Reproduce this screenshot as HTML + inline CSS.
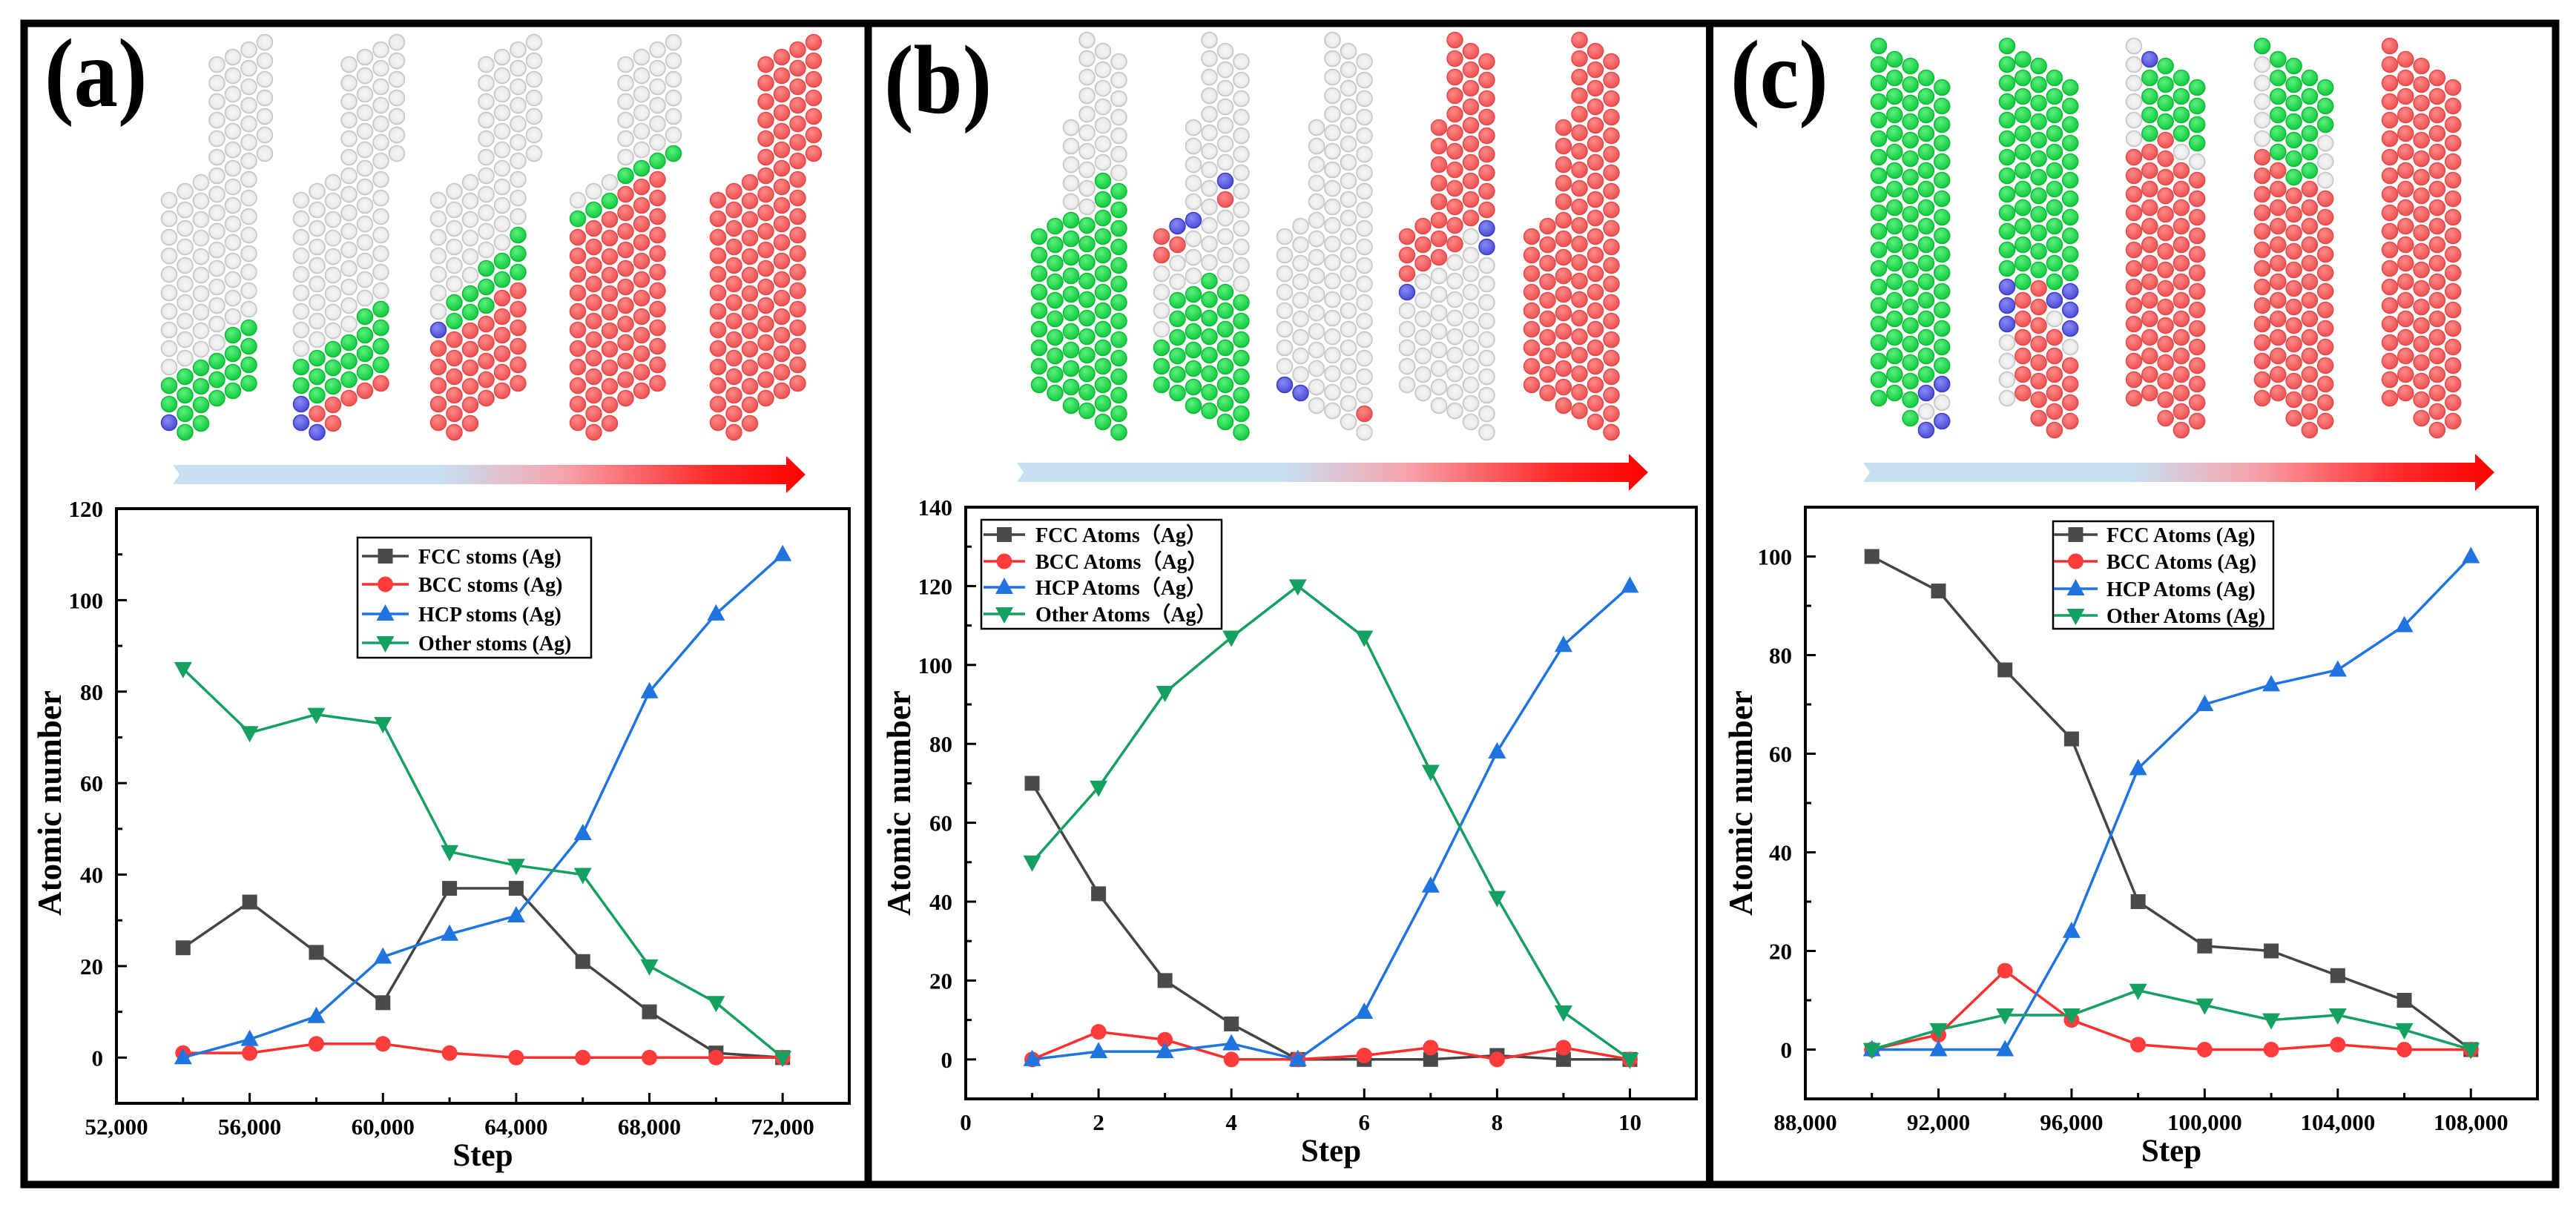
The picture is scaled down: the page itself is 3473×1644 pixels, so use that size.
<!DOCTYPE html>
<html><head><meta charset="utf-8"><title>Atomic structure evolution</title>
<style>html,body{margin:0;padding:0;background:#fff}svg{display:block}
text{font-family:"Liberation Serif","Times New Roman",serif;font-weight:bold;fill:#000}</style></head>
<body>
<svg id="fig" xmlns="http://www.w3.org/2000/svg" width="3473" height="1644" viewBox="0 0 3473 1644">
<defs>
<radialGradient id="gG" cx="0.4" cy="0.35" r="0.7"><stop offset="0" stop-color="#5cf07e"/><stop offset="1" stop-color="#0bc93a"/></radialGradient>
<radialGradient id="gR" cx="0.4" cy="0.35" r="0.7"><stop offset="0" stop-color="#ff8a8a"/><stop offset="1" stop-color="#ee4c4c"/></radialGradient>
<radialGradient id="gB" cx="0.4" cy="0.35" r="0.7"><stop offset="0" stop-color="#8a8af5"/><stop offset="1" stop-color="#4747d8"/></radialGradient>
<radialGradient id="gW" cx="0.5" cy="0.5" r="0.6"><stop offset="0" stop-color="#f7f7f7"/><stop offset="0.6" stop-color="#ededed"/><stop offset="1" stop-color="#d0d0d0"/></radialGradient>
</defs>
<rect x="0" y="0" width="3473" height="1644" fill="#fff"/>
<rect x="32.5" y="31.5" width="3413" height="1566" fill="none" stroke="#000" stroke-width="10"/>
<line x1="1170.5" y1="30" x2="1170.5" y2="1600" stroke="#000" stroke-width="10"/>
<line x1="2305" y1="30" x2="2305" y2="1600" stroke="#000" stroke-width="10"/>
<text x="0" y="0" font-size="132" transform="translate(60,143) scale(0.9,1)">(a)</text>
<text x="0" y="0" font-size="132" transform="translate(1192,152) scale(0.9,1)">(b)</text>
<text x="0" y="0" font-size="132" transform="translate(2333,145) scale(0.9,1)">(c)</text>
<g id="atoms"></g>
<g id="arrows"></g>
<g id="charts"></g>
</svg>
<script>
// ---------- chart data ----------
const aSteps=[54000,56000,58000,60000,62000,64000,66000,68000,70000,72000];
const aFCC=[24,34,23,12,37,37,21,10,1,0];
const aBCC=[1,1,3,3,1,0,0,0,0,0];
const aHCP=[0,4,9,22,27,31,49,80,97,110];
const aOther=[85,71,75,73,45,42,40,20,12,0];
const aXTicks=[52000,56000,60000,64000,68000,72000];
const aYTicks=[0,20,40,60,80,100,120];
const aLegend=["FCC stoms (Ag)","BCC stoms (Ag)","HCP stoms (Ag)","Other stoms (Ag)"];

const bSteps=[1,2,3,4,5,6,7,8,9,10];
const bFCC=[70,42,20,9,0,0,0,1,0,0];
const bBCC=[0,7,5,0,0,1,3,0,3,0];
const bHCP=[0,2,2,4,0,12,44,78,105,120];
const bOther=[50,69,93,107,120,107,73,41,12,0];
const bXTicks=[0,2,4,6,8,10];
const bYTicks=[0,20,40,60,80,100,120,140];
const bLegend=["FCC Atoms（Ag）","BCC Atoms（Ag）","HCP Atoms（Ag）","Other Atoms（Ag）"];

const cSteps=[90000,92000,94000,96000,98000,100000,102000,104000,106000,108000];
const cFCC=[100,93,77,63,30,21,20,15,10,0];
const cBCC=[0,3,16,6,1,0,0,1,0,0];
const cHCP=[0,0,0,24,57,70,74,77,86,100];
const cOther=[0,4,7,7,12,9,6,7,4,0];
const cXTicks=[88000,92000,96000,100000,104000,108000];
const cYTicks=[0,20,40,60,80,100];
const cLegend=["FCC Atoms (Ag)","BCC Atoms (Ag)","HCP Atoms (Ag)","Other Atoms (Ag)"];

const NS="http://www.w3.org/2000/svg";
function mk(tag,attrs,parent){const e=document.createElementNS(NS,tag);for(const k in attrs)e.setAttribute(k,attrs[k]);if(parent)parent.appendChild(e);return e;}

const seriesColors=["#444444","#ff2e2e","#1f74e0","#14a060"];
const markerColors=["#4a4a4a","#ff3b3b","#1f74e0","#14a060"];
const seriesNames=["fcc","bcc","hcp","other"];

function marker(g,type,x,y,color){
  let m;
  if(type===0){m=mk('rect',{x:x-10,y:y-10,width:20,height:20,fill:color},g);}
  else if(type===1){m=mk('circle',{cx:x,cy:y,r:10.5,fill:color},g);}
  else if(type===2){m=mk('polygon',{points:`${x},${y-13} ${x+12},${y+9} ${x-12},${y+9}`,fill:color},g);}
  else {m=mk('polygon',{points:`${x},${y+13} ${x+12},${y-9} ${x-12},${y-9}`,fill:color},g);}
  return m;
}

function drawChart(cfg){
  const root=document.getElementById('charts');
  const g=mk('g',{},root);
  
  
  const sx=v=>cfg.L+(v-cfg.xmin)/(cfg.xmax-cfg.xmin)*(cfg.R-cfg.L);
  const sy=v=>cfg.B-(v-cfg.ymin)/(cfg.ymax-cfg.ymin)*(cfg.B-cfg.T);
  const fr=mk('rect',{x:cfg.L,y:cfg.T,width:cfg.R-cfg.L,height:cfg.B-cfg.T,fill:'none',stroke:'#000','stroke-width':4},g);
  
  
  for(let v=cfg.xTicks[0];v<=cfg.xmax;v+=cfg.xMinor){
    const major=cfg.xTicks.indexOf(v)>=0;
    const t=mk('line',{x1:sx(v),x2:sx(v),y1:cfg.B,y2:cfg.B-(major?14:8),stroke:'#000','stroke-width':3},g);
    
    
  }
  for(let v=cfg.yTicks[0]-cfg.yMinor;v<=cfg.ymax;v+=cfg.yMinor){
    if(v<=cfg.ymin)continue;
    const major=cfg.yTicks.indexOf(v)>=0;
    const t=mk('line',{x1:cfg.L,x2:cfg.L+(major?14:8),y1:sy(v),y2:sy(v),stroke:'#000','stroke-width':3},g);
    
    
  }
  cfg.xTicks.forEach(v=>{
    const t=mk('text',{x:sx(v),y:cfg.B+42,'font-size':31,'text-anchor':'middle'},g);
    t.textContent=cfg.fmt(v);
    
    
  });
  cfg.yTicks.forEach(v=>{
    const t=mk('text',{x:cfg.L-18,y:sy(v)+11,'font-size':31,'text-anchor':'end'},g);
    t.textContent=String(v);
    
    
  });
  const xt=mk('text',{x:(cfg.L+cfg.R)/2,y:cfg.B+84,'font-size':43,'text-anchor':'middle'},g);
  xt.textContent='Step';
  
  
  const yt=mk('text',{x:0,y:0,'font-size':45,'text-anchor':'middle',transform:`translate(${cfg.yTitleX+15},1083) rotate(-90)`},g);
  yt.textContent='Atomic number';
  
  
  cfg.series.forEach((vals,si)=>{
    const sg=mk('g',{},g);
    
    
    const pts=vals.map((v,i)=>sx(cfg.steps[i])+','+sy(v)).join(' ');
    const pl=mk('polyline',{points:pts,fill:'none',stroke:seriesColors[si],'stroke-width':3.5,'stroke-linejoin':'round'},sg);
    
    
    vals.forEach((v,i)=>{
      const m=marker(sg,si,sx(cfg.steps[i]),sy(v),markerColors[si]);
      
      
    });
  });
  const lg=mk('g',{},g);
  
  
  const lb=mk('rect',{x:cfg.leg.x1,y:cfg.leg.y1,width:cfg.leg.x2-cfg.leg.x1,height:cfg.leg.y2-cfg.leg.y1,fill:'#fff',stroke:'#000','stroke-width':2.5},lg);
  
  
  cfg.legend.forEach((lab,si)=>{
    const y=cfg.leg.rows[si];
    const e=mk('g',{},lg);
    
    
    mk('line',{x1:cfg.leg.l1,x2:cfg.leg.l2,y1:y,y2:y,stroke:seriesColors[si],'stroke-width':3.5},e);
    marker(e,si,(cfg.leg.l1+cfg.leg.l2)/2,y,markerColors[si]);
    const t=mk('text',{x:cfg.leg.tx,y:y+10,'font-size':28},e);
    t.textContent=lab;
  });
}
const commaFmt=v=>v.toLocaleString('en-US');
drawChart({id:'a',L:157,R:1145,T:686,B:1488,xmin:52000,xmax:74000,ymin:-10,ymax:120,xTicks:aXTicks,yTicks:aYTicks,xMinor:2000,yMinor:10,fmt:commaFmt,steps:aSteps,series:[aFCC,aBCC,aHCP,aOther],legend:aLegend,yTitleX:67,
  leg:{x1:482,y1:725,x2:797,y2:887,rows:[750,788,828,867],l1:488,l2:551,tx:564}});
drawChart({id:'b',L:1302,R:2287,T:684,B:1482,xmin:0,xmax:11,ymin:-10,ymax:140,xTicks:bXTicks,yTicks:bYTicks,xMinor:1,yMinor:10,fmt:v=>String(v),steps:bSteps,series:[bFCC,bBCC,bHCP,bOther],legend:bLegend,yTitleX:1212,
  leg:{x1:1323,y1:701,x2:1647,y2:848,rows:[721,757,792,828],l1:1326,l2:1382,tx:1396}});
drawChart({id:'c',L:2434,R:3421,T:684,B:1482,xmin:88000,xmax:110000,ymin:-10,ymax:110,xTicks:cXTicks,yTicks:cYTicks,xMinor:2000,yMinor:10,fmt:commaFmt,steps:cSteps,series:[cFCC,cBCC,cHCP,cOther],legend:cLegend,yTitleX:2347,
  leg:{x1:2768,y1:703,x2:3065,y2:848,rows:[721,757,794,830],l1:2769,l2:2828,tx:2840}});

// ---------- arrows ----------
function arrow(x0,x1,y,name){
  const a=document.getElementById('arrows');
  const gid='ag_'+name;
  const lgEl=mk('linearGradient',{id:gid,gradientUnits:'userSpaceOnUse',x1:x0,x2:x1,y1:0,y2:0},document.querySelector('defs'));
  [[0,'#c6e0f2'],[0.42,'#c6e0f2'],[0.62,'#f7a2aa'],[0.85,'#ff2a2a'],[1,'#ff0000']].forEach(s=>mk('stop',{offset:s[0],'stop-color':s[1]},lgEl));
  const xh=x1-26;
  const p=mk('polygon',{points:`${x0},${y-13} ${xh},${y-13} ${xh},${y-25} ${x1},${y} ${xh},${y+25} ${xh},${y+13} ${x0},${y+13} ${x0+9},${y}`,fill:`url(#${gid})`},a);
  
  
}
arrow(233,1086,640,'a');
arrow(1371,2222,637,'b');
arrow(2512,3363,637,'c');

// ---------- atoms ----------
const fills={g:'url(#gG)',r:'url(#gR)',b:'url(#gB)',w:'url(#gW)'};
const strokes={g:'#10b838',r:'#e04a4a',b:'#3c3cc0',w:'#c4c4c4'};
const tplA={tops:[270,258,246,87,77,67,57],bots:[594,583,572,561,550,539,230],dx:21.5};
const tplB={tops:[319,305,172,54,69,83],bots:[527,545,560,572,584,596],dx:21.5};
const tplC={tops:[62,80,89,105,118],bots:[542,554,565,580,583],dx:21.3};
const near=(list,i,y)=>list.some(p=>p[0]===i&&Math.abs(p[1]-y)<13);
const structs=[
 {x:228,t:tplA,f:(i,y,k,n)=>(i===0&&k===n-1)?'b':(y>516-i*17&&i<6?'g':'w')},
 {x:406,t:tplA,f:(i,y,k,n)=>((i===0&&k>=n-2)||(i===1&&k===n-1))?'b':(i>=1&&i<6&&y>555-(i-1)*12)?'r':(y>490-i*17&&i<6)?'g':'w'},
 {x:591,t:tplA,f:(i,y)=>(i===0&&Math.abs(y-446)<13)?'b':(y>468-i*17)?'r':(y>425-i*23)?'g':'w'},
 {x:779,t:tplA,f:(i,y)=>(y>305-i*15)?'r':(y>280-i*16)?'g':'w'},
 {x:968,t:tplA,f:()=>'r'},
 {x:1401,t:tplB,f:(i,y)=>(i<=1||(i<=3&&y>=285)||(i>=4&&y>=240))?'g':'w'},
 {x:1566,t:tplB,f:(i,y)=>{if(near([[1,312],[2,297],[4,248]],i,y))return 'b';if(near([[0,324],[0,350],[1,335],[4,275]],i,y))return 'r';return y>[451,402,388,371,375,384][i]?'g':'w';}},
 {x:1732,t:tplB,f:(i,y,k,n)=>((i===0&&k===n-1)||(i===1&&k===n-1))?'b':(i===5&&Math.abs(y-562)<13)?'r':'w'},
 {x:1897,t:tplB,f:(i,y)=>near([[0,388],[5,308],[5,335]],i,y)?'b':(y<395-i*19)?'r':'w'},
 {x:2065,t:tplB,f:()=>'r'},
 {x:2533,t:tplC,f:(i,y)=>(i>=3&&y>515)?(((Math.round((y-515)/25)+i)%2)?'w':'b'):'g'},
 {x:2706,t:tplC,f:(i,y)=>{if(y<384)return 'g';if(i===0)return y<450?'b':'w';if(i===3)return y<410?'b':(y<450?'w':'r');if(i===4)return y<445?'b':(y<470?'w':'r');return 'r';}},
 {x:2877,t:tplC,f:(i,y)=>{if(i===1&&y<95)return 'b';if(i===0)return y<190?'w':'r';if(y<(i>=3?195:185))return 'g';if(i>=3&&y<225)return 'w';return 'r';}},
 {x:3050,t:tplC,f:(i,y)=>{if(i===0)return y<75?'g':(y<205?'w':'r');if(i===4)return y<175?'g':(y<260?'w':'r');return y<[0,228,241,232][i]?'g':'r';}},
 {x:3222,t:tplC,f:()=>'r'}
];
const atomsG=document.getElementById('atoms');
structs.forEach((s,si)=>{
  const sg=mk('g',{},atomsG);
  
  
  s.t.tops.forEach((top,i)=>{
    const bot=s.t.bots[i];
    const n=Math.floor((bot-top)/25)+1;
    for(let k=0;k<n;k++){
      const y=top+k*25;
      const c=s.f(i,y,k,n);
      mk('circle',{cx:s.x+i*s.t.dx,cy:y,r:10.5,fill:fills[c],stroke:strokes[c],'stroke-width':1.5},sg);
    }
  });
});
</script>
</body></html>
